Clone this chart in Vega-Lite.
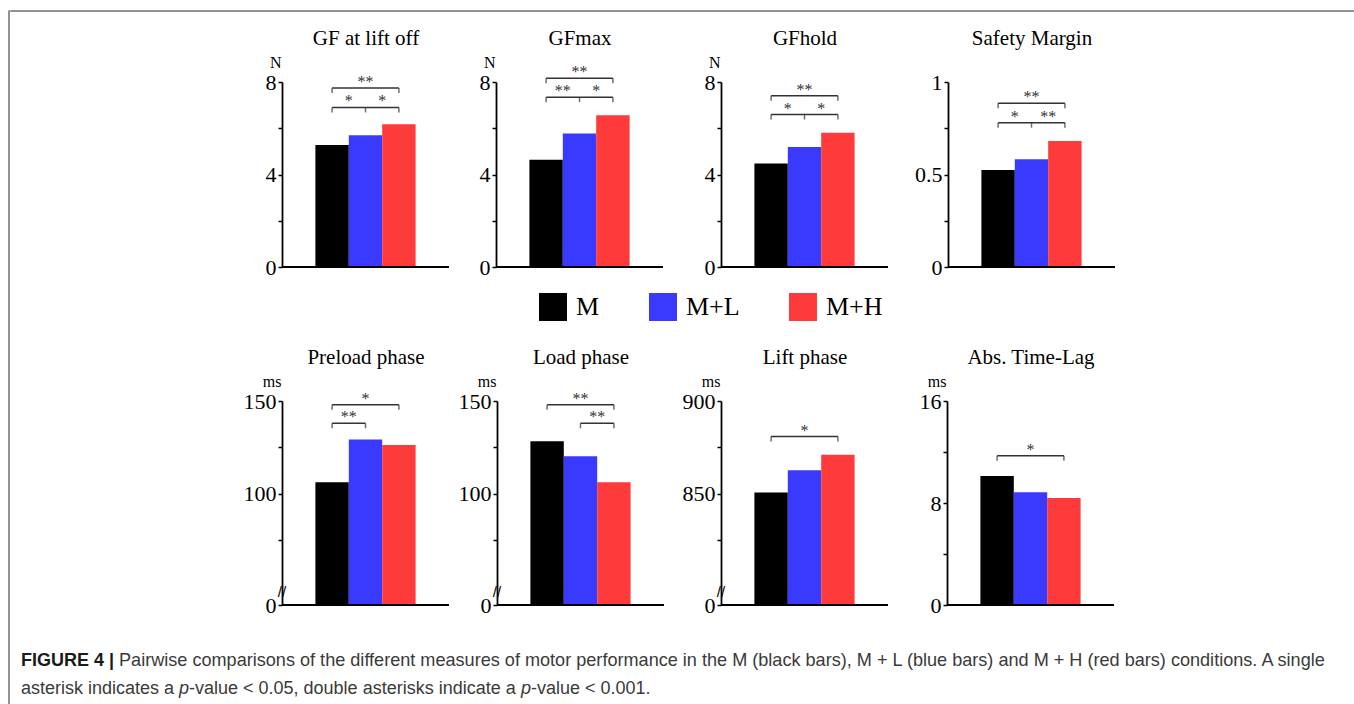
{
"$schema": "https://vega.github.io/schema/vega-lite/v6.json",
"background": "white",
"padding": {"left": 8, "top": 10, "right": 0, "bottom": 0},
"config": {
  "view": {"stroke": null},
  "concat": {"spacing": 0},
  "axis": {"grid": false, "domainColor": "#000", "domainWidth": 1.8, "tickColor": "#000", "tickWidth": 1.5, "tickSize": 4, "labelFont": "Liberation Serif", "labelFontSize": 22, "labelColor": "#000", "labelPadding": 2, "labelOverlap": false, "labelFlush": false, "titleFont": "Liberation Serif", "titleFontWeight": "normal", "titleColor": "#000"},
  "axisY": {"titleFontSize": 16, "titleAngle": 0, "titleAlign": "right", "titleBaseline": "alphabetic", "titleX": -1, "titleY": -15, "minExtent": 0},
  "axisX": {"domain": false, "ticks": false, "labels": false, "titleFontSize": 21, "titlePadding": 38, "titleBaseline": "alphabetic", "minExtent": 0, "maxExtent": 0},
  "legend": {"padding": 0}
},
"datasets": {
  "bars": [
    {"panel":"GF at lift off","cond":"M","value":5.28},
    {"panel":"GF at lift off","cond":"M+L","value":5.70},
    {"panel":"GF at lift off","cond":"M+H","value":6.17},
    {"panel":"GFmax","cond":"M","value":4.64},
    {"panel":"GFmax","cond":"M+L","value":5.77},
    {"panel":"GFmax","cond":"M+H","value":6.56},
    {"panel":"GFhold","cond":"M","value":4.48},
    {"panel":"GFhold","cond":"M+L","value":5.19},
    {"panel":"GFhold","cond":"M+H","value":5.81},
    {"panel":"Safety Margin","cond":"M","value":0.524},
    {"panel":"Safety Margin","cond":"M+L","value":0.582},
    {"panel":"Safety Margin","cond":"M+H","value":0.681},
    {"panel":"Preload phase","cond":"M","value":106.2},
    {"panel":"Preload phase","cond":"M+L","value":129.2},
    {"panel":"Preload phase","cond":"M+H","value":126.3},
    {"panel":"Load phase","cond":"M","value":128.3},
    {"panel":"Load phase","cond":"M+L","value":120.2},
    {"panel":"Load phase","cond":"M+H","value":106.2},
    {"panel":"Lift phase","cond":"M","value":850.6},
    {"panel":"Lift phase","cond":"M+L","value":862.6},
    {"panel":"Lift phase","cond":"M+H","value":871.0},
    {"panel":"Abs. Time-Lag","cond":"M","value":10.12},
    {"panel":"Abs. Time-Lag","cond":"M+L","value":8.84},
    {"panel":"Abs. Time-Lag","cond":"M+H","value":8.40}
  ],
  "brackets": [
    {"panel":"GF at lift off","from":"M","to":"M+H","level":6.9},
    {"panel":"GF at lift off","from":"M","to":"M+H","level":7.74},
    {"panel":"GFmax","from":"M","to":"M+H","level":7.34},
    {"panel":"GFmax","from":"M","to":"M+H","level":8.16},
    {"panel":"GFhold","from":"M","to":"M+H","level":6.59},
    {"panel":"GFhold","from":"M","to":"M+H","level":7.41},
    {"panel":"Safety Margin","from":"M","to":"M+H","level":0.78},
    {"panel":"Safety Margin","from":"M","to":"M+H","level":0.885},
    {"panel":"Preload phase","from":"M","to":"M+H","level":148},
    {"panel":"Preload phase","from":"M","to":"M+L","level":138},
    {"panel":"Load phase","from":"M","to":"M+H","level":148},
    {"panel":"Load phase","from":"M+L","to":"M+H","level":138},
    {"panel":"Lift phase","from":"M","to":"M+H","level":880.8},
    {"panel":"Abs. Time-Lag","from":"M","to":"M+H","level":11.7}
  ],
  "ticks": [
    {"panel":"GF at lift off","at":"M","level":6.9},
    {"panel":"GF at lift off","at":"M+L","level":6.9},
    {"panel":"GF at lift off","at":"M+H","level":6.9},
    {"panel":"GF at lift off","at":"M","level":7.74},
    {"panel":"GF at lift off","at":"M+H","level":7.74},
    {"panel":"GFmax","at":"M","level":7.34},
    {"panel":"GFmax","at":"M+L","level":7.34},
    {"panel":"GFmax","at":"M+H","level":7.34},
    {"panel":"GFmax","at":"M","level":8.16},
    {"panel":"GFmax","at":"M+H","level":8.16},
    {"panel":"GFhold","at":"M","level":6.59},
    {"panel":"GFhold","at":"M+L","level":6.59},
    {"panel":"GFhold","at":"M+H","level":6.59},
    {"panel":"GFhold","at":"M","level":7.41},
    {"panel":"GFhold","at":"M+H","level":7.41},
    {"panel":"Safety Margin","at":"M","level":0.78},
    {"panel":"Safety Margin","at":"M+L","level":0.78},
    {"panel":"Safety Margin","at":"M+H","level":0.78},
    {"panel":"Safety Margin","at":"M","level":0.885},
    {"panel":"Safety Margin","at":"M+H","level":0.885},
    {"panel":"Preload phase","at":"M","level":148},
    {"panel":"Preload phase","at":"M+H","level":148},
    {"panel":"Preload phase","at":"M","level":138},
    {"panel":"Preload phase","at":"M+L","level":138},
    {"panel":"Load phase","at":"M","level":148},
    {"panel":"Load phase","at":"M+H","level":148},
    {"panel":"Load phase","at":"M+L","level":138},
    {"panel":"Load phase","at":"M+H","level":138},
    {"panel":"Lift phase","at":"M","level":880.8},
    {"panel":"Lift phase","at":"M+H","level":880.8},
    {"panel":"Abs. Time-Lag","at":"M","level":11.7},
    {"panel":"Abs. Time-Lag","at":"M+H","level":11.7}
  ],
  "stars": [
    {"panel":"GF at lift off","at":"M","span":"pair","level":6.9,"text":"*"},
    {"panel":"GF at lift off","at":"M+L","span":"pair","level":6.9,"text":"*"},
    {"panel":"GF at lift off","at":"M+L","span":"all","level":7.74,"text":"**"},
    {"panel":"GFmax","at":"M","span":"pair","level":7.34,"text":"**"},
    {"panel":"GFmax","at":"M+L","span":"pair","level":7.34,"text":"*"},
    {"panel":"GFmax","at":"M+L","span":"all","level":8.16,"text":"**"},
    {"panel":"GFhold","at":"M","span":"pair","level":6.59,"text":"*"},
    {"panel":"GFhold","at":"M+L","span":"pair","level":6.59,"text":"*"},
    {"panel":"GFhold","at":"M+L","span":"all","level":7.41,"text":"**"},
    {"panel":"Safety Margin","at":"M","span":"pair","level":0.78,"text":"*"},
    {"panel":"Safety Margin","at":"M+L","span":"pair","level":0.78,"text":"**"},
    {"panel":"Safety Margin","at":"M+L","span":"all","level":0.885,"text":"**"},
    {"panel":"Preload phase","at":"M+L","span":"all","level":148,"text":"*"},
    {"panel":"Preload phase","at":"M","span":"pair","level":138,"text":"**"},
    {"panel":"Load phase","at":"M+L","span":"all","level":148,"text":"**"},
    {"panel":"Load phase","at":"M+L","span":"pair","level":138,"text":"**"},
    {"panel":"Lift phase","at":"M+L","span":"all","level":880.8,"text":"*"},
    {"panel":"Abs. Time-Lag","at":"M+L","span":"all","level":11.7,"text":"*"}
  ],
  "breaks": [
    {"panel":"Preload phase","level":47},
    {"panel":"Load phase","level":47},
    {"panel":"Lift phase","level":797}
  ],
  "caption": [
    {"seg":"b","text":"FIGURE 4 |"},
    {"seg":"r1","text":"Pairwise comparisons of the different measures of motor performance in the M (black bars), M + L (blue bars) and M + H (red bars) conditions. A single"},
    {"seg":"r2a","text":"asterisk indicates a"},
    {"seg":"i1","text":"p"},
    {"seg":"r2b","text":"-value < 0.05, double asterisks indicate a"},
    {"seg":"i2","text":"p"},
    {"seg":"r2c","text":"-value < 0.001."}
  ]
},
"spacing": 0,
"hconcat": [
  {"width": 0.01, "height": 694, "view": {"stroke": "#6e6e6e", "strokeWidth": 1.5}, "data": {"values": []}, "mark": "rule", "encoding": {}},
  {"spacing": 0,
   "resolve": {"scale": {"color": "independent"}, "legend": {"color": "independent"}},
   "vconcat": [
    {"width": 1344, "height": 0.01, "view": {"stroke": "#6e6e6e", "strokeWidth": 1.5}, "data": {"values": []}, "mark": "rule", "encoding": {}},
    {"width": 0.01, "height": 15, "data": {"values": []}, "mark": "rule", "encoding": {}},
    {"spacing": 0, "hconcat": [
      {"width": 254, "height": 0.01, "data": {"values": []}, "mark": "rule", "encoding": {}},
      {"width": 167, "height": 185, "layer": [
        {"data": {"name": "bars"}, "transform": [{"filter": "datum.panel === 'GF at lift off'"}], "mark": {"type": "bar"},
         "encoding": {
          "x": {"field": "cond", "type": "nominal", "scale": {"domain": ["M","M+L","M+H"], "paddingInner": 0, "paddingOuter": 1}, "axis": {"orient": "top", "title": "GF at lift off"}},
          "y": {"field": "value", "type": "quantitative", "scale": {"domain": [0, 8]}, "axis": {"values": [0,2,4,6,8], "labelExpr": "datum.value === 0 || datum.value === 4 || datum.value === 8 ? datum.label : ''", "title": "N"}},
          "color": {"field": "cond", "type": "nominal", "scale": {"domain": ["M","M+L","M+H"], "range": ["#000000","#3a3aff","#ff3a3a"]}, "legend": null}}},
        {"data": {"name": "brackets"}, "transform": [{"filter": "datum.panel === 'GF at lift off'"}], "mark": {"type": "rule", "color": "#333333", "strokeWidth": 1.5},
         "encoding": {"x": {"field": "from", "type": "nominal"}, "x2": {"field": "to"}, "y": {"field": "level", "type": "quantitative"}}},
        {"data": {"name": "ticks"}, "transform": [{"filter": "datum.panel === 'GF at lift off'"}], "mark": {"type": "tick", "orient": "vertical", "size": 5, "thickness": 1.5, "yOffset": 2.5, "color": "#333333"},
         "encoding": {"x": {"field": "at", "type": "nominal"}, "y": {"field": "level", "type": "quantitative"}}},
        {"data": {"name": "stars"}, "transform": [{"filter": "datum.panel === 'GF at lift off' && datum.span === 'pair'"}], "mark": {"type": "text", "font": "Liberation Serif", "fontSize": 16, "color": "#333333", "baseline": "alphabetic", "dy": -1},
         "encoding": {"x": {"field": "at", "type": "nominal", "bandPosition": 1}, "y": {"field": "level", "type": "quantitative"}, "text": {"field": "text"}}},
        {"data": {"name": "stars"}, "transform": [{"filter": "datum.panel === 'GF at lift off' && datum.span === 'all'"}], "mark": {"type": "text", "font": "Liberation Serif", "fontSize": 16, "color": "#333333", "baseline": "alphabetic", "dy": -1},
         "encoding": {"x": {"field": "at", "type": "nominal", "bandPosition": 0.5}, "y": {"field": "level", "type": "quantitative"}, "text": {"field": "text"}}},
        {"data": {"name": "bars"}, "transform": [{"filter": "datum.panel === 'GF at lift off' && datum.cond === 'M'"}], "mark": {"type": "rule", "color": "#000000", "strokeWidth": 1.8},
         "encoding": {"y": {"datum": 0, "type": "quantitative"}}}
      ]},
      {"width": 29, "height": 0.01, "data": {"values": []}, "mark": "rule", "encoding": {}},
      {"width": 167, "height": 185, "layer": [
        {"data": {"name": "bars"}, "transform": [{"filter": "datum.panel === 'GFmax'"}], "mark": {"type": "bar"},
         "encoding": {
          "x": {"field": "cond", "type": "nominal", "scale": {"domain": ["M","M+L","M+H"], "paddingInner": 0, "paddingOuter": 1}, "axis": {"orient": "top", "title": "GFmax"}},
          "y": {"field": "value", "type": "quantitative", "scale": {"domain": [0, 8]}, "axis": {"values": [0,2,4,6,8], "labelExpr": "datum.value === 0 || datum.value === 4 || datum.value === 8 ? datum.label : ''", "title": "N"}},
          "color": {"field": "cond", "type": "nominal", "scale": {"domain": ["M","M+L","M+H"], "range": ["#000000","#3a3aff","#ff3a3a"]}, "legend": null}}},
        {"data": {"name": "brackets"}, "transform": [{"filter": "datum.panel === 'GFmax'"}], "mark": {"type": "rule", "color": "#333333", "strokeWidth": 1.5},
         "encoding": {"x": {"field": "from", "type": "nominal"}, "x2": {"field": "to"}, "y": {"field": "level", "type": "quantitative"}}},
        {"data": {"name": "ticks"}, "transform": [{"filter": "datum.panel === 'GFmax'"}], "mark": {"type": "tick", "orient": "vertical", "size": 5, "thickness": 1.5, "yOffset": 2.5, "color": "#333333"},
         "encoding": {"x": {"field": "at", "type": "nominal"}, "y": {"field": "level", "type": "quantitative"}}},
        {"data": {"name": "stars"}, "transform": [{"filter": "datum.panel === 'GFmax' && datum.span === 'pair'"}], "mark": {"type": "text", "font": "Liberation Serif", "fontSize": 16, "color": "#333333", "baseline": "alphabetic", "dy": -1},
         "encoding": {"x": {"field": "at", "type": "nominal", "bandPosition": 1}, "y": {"field": "level", "type": "quantitative"}, "text": {"field": "text"}}},
        {"data": {"name": "stars"}, "transform": [{"filter": "datum.panel === 'GFmax' && datum.span === 'all'"}], "mark": {"type": "text", "font": "Liberation Serif", "fontSize": 16, "color": "#333333", "baseline": "alphabetic", "dy": -1},
         "encoding": {"x": {"field": "at", "type": "nominal", "bandPosition": 0.5}, "y": {"field": "level", "type": "quantitative"}, "text": {"field": "text"}}},
        {"data": {"name": "bars"}, "transform": [{"filter": "datum.panel === 'GFmax' && datum.cond === 'M'"}], "mark": {"type": "rule", "color": "#000000", "strokeWidth": 1.8},
         "encoding": {"y": {"datum": 0, "type": "quantitative"}}}
      ]},
      {"width": 40, "height": 0.01, "data": {"values": []}, "mark": "rule", "encoding": {}},
      {"width": 167, "height": 185, "layer": [
        {"data": {"name": "bars"}, "transform": [{"filter": "datum.panel === 'GFhold'"}], "mark": {"type": "bar"},
         "encoding": {
          "x": {"field": "cond", "type": "nominal", "scale": {"domain": ["M","M+L","M+H"], "paddingInner": 0, "paddingOuter": 1}, "axis": {"orient": "top", "title": "GFhold"}},
          "y": {"field": "value", "type": "quantitative", "scale": {"domain": [0, 8]}, "axis": {"values": [0,2,4,6,8], "labelExpr": "datum.value === 0 || datum.value === 4 || datum.value === 8 ? datum.label : ''", "title": "N"}},
          "color": {"field": "cond", "type": "nominal", "scale": {"domain": ["M","M+L","M+H"], "range": ["#000000","#3a3aff","#ff3a3a"]}, "legend": null}}},
        {"data": {"name": "brackets"}, "transform": [{"filter": "datum.panel === 'GFhold'"}], "mark": {"type": "rule", "color": "#333333", "strokeWidth": 1.5},
         "encoding": {"x": {"field": "from", "type": "nominal"}, "x2": {"field": "to"}, "y": {"field": "level", "type": "quantitative"}}},
        {"data": {"name": "ticks"}, "transform": [{"filter": "datum.panel === 'GFhold'"}], "mark": {"type": "tick", "orient": "vertical", "size": 5, "thickness": 1.5, "yOffset": 2.5, "color": "#333333"},
         "encoding": {"x": {"field": "at", "type": "nominal"}, "y": {"field": "level", "type": "quantitative"}}},
        {"data": {"name": "stars"}, "transform": [{"filter": "datum.panel === 'GFhold' && datum.span === 'pair'"}], "mark": {"type": "text", "font": "Liberation Serif", "fontSize": 16, "color": "#333333", "baseline": "alphabetic", "dy": -1},
         "encoding": {"x": {"field": "at", "type": "nominal", "bandPosition": 1}, "y": {"field": "level", "type": "quantitative"}, "text": {"field": "text"}}},
        {"data": {"name": "stars"}, "transform": [{"filter": "datum.panel === 'GFhold' && datum.span === 'all'"}], "mark": {"type": "text", "font": "Liberation Serif", "fontSize": 16, "color": "#333333", "baseline": "alphabetic", "dy": -1},
         "encoding": {"x": {"field": "at", "type": "nominal", "bandPosition": 0.5}, "y": {"field": "level", "type": "quantitative"}, "text": {"field": "text"}}},
        {"data": {"name": "bars"}, "transform": [{"filter": "datum.panel === 'GFhold' && datum.cond === 'M'"}], "mark": {"type": "rule", "color": "#000000", "strokeWidth": 1.8},
         "encoding": {"y": {"datum": 0, "type": "quantitative"}}}
      ]},
      {"width": 24.5, "height": 0.01, "data": {"values": []}, "mark": "rule", "encoding": {}},
      {"width": 167, "height": 185, "layer": [
        {"data": {"name": "bars"}, "transform": [{"filter": "datum.panel === 'Safety Margin'"}], "mark": {"type": "bar"},
         "encoding": {
          "x": {"field": "cond", "type": "nominal", "scale": {"domain": ["M","M+L","M+H"], "paddingInner": 0, "paddingOuter": 1}, "axis": {"orient": "top", "title": "Safety Margin"}},
          "y": {"field": "value", "type": "quantitative", "scale": {"domain": [0, 1]}, "axis": {"values": [0,0.25,0.5,0.75,1], "labelExpr": "datum.value === 0 ? '0' : datum.value === 0.5 ? '0.5' : datum.value === 1 ? '1' : ''", "title": ""}},
          "color": {"field": "cond", "type": "nominal", "scale": {"domain": ["M","M+L","M+H"], "range": ["#000000","#3a3aff","#ff3a3a"]}, "legend": null}}},
        {"data": {"name": "brackets"}, "transform": [{"filter": "datum.panel === 'Safety Margin'"}], "mark": {"type": "rule", "color": "#333333", "strokeWidth": 1.5},
         "encoding": {"x": {"field": "from", "type": "nominal"}, "x2": {"field": "to"}, "y": {"field": "level", "type": "quantitative"}}},
        {"data": {"name": "ticks"}, "transform": [{"filter": "datum.panel === 'Safety Margin'"}], "mark": {"type": "tick", "orient": "vertical", "size": 5, "thickness": 1.5, "yOffset": 2.5, "color": "#333333"},
         "encoding": {"x": {"field": "at", "type": "nominal"}, "y": {"field": "level", "type": "quantitative"}}},
        {"data": {"name": "stars"}, "transform": [{"filter": "datum.panel === 'Safety Margin' && datum.span === 'pair'"}], "mark": {"type": "text", "font": "Liberation Serif", "fontSize": 16, "color": "#333333", "baseline": "alphabetic", "dy": -1},
         "encoding": {"x": {"field": "at", "type": "nominal", "bandPosition": 1}, "y": {"field": "level", "type": "quantitative"}, "text": {"field": "text"}}},
        {"data": {"name": "stars"}, "transform": [{"filter": "datum.panel === 'Safety Margin' && datum.span === 'all'"}], "mark": {"type": "text", "font": "Liberation Serif", "fontSize": 16, "color": "#333333", "baseline": "alphabetic", "dy": -1},
         "encoding": {"x": {"field": "at", "type": "nominal", "bandPosition": 0.5}, "y": {"field": "level", "type": "quantitative"}, "text": {"field": "text"}}},
        {"data": {"name": "bars"}, "transform": [{"filter": "datum.panel === 'Safety Margin' && datum.cond === 'M'"}], "mark": {"type": "rule", "color": "#000000", "strokeWidth": 1.8},
         "encoding": {"y": {"datum": 0, "type": "quantitative"}}}
      ]}
    ]},
    {"width": 0.01, "height": 11.5, "data": {"values": []}, "mark": "rule", "encoding": {}},
    {"width": 1344, "height": 0.01,
     "data": {"name": "bars"}, "transform": [{"filter": "datum.panel === 'GFmax'"}],
     "mark": {"type": "square", "opacity": 0},
     "encoding": {"color": {"field": "cond", "type": "nominal", "scale": {"domain": ["M","M+L","M+H"], "range": ["#000000","#3a3aff","#ff3a3a"]},
       "legend": {"title": null, "orient": "none", "legendX": 528, "legendY": 0, "direction": "horizontal", "symbolType": "square", "symbolSize": 784, "symbolOpacity": 1, "symbolStrokeWidth": 0, "labelFont": "Liberation Serif", "labelFontSize": 26, "labelColor": "#000", "labelOffset": 9, "columnPadding": 49, "padding": 0}}}},
    {"width": 0.01, "height": 25, "data": {"values": []}, "mark": "rule", "encoding": {}},
    {"spacing": 0, "hconcat": [
      {"width": 232, "height": 0.01, "data": {"values": []}, "mark": "rule", "encoding": {}},
      {"width": 167, "height": 204, "layer": [
        {"data": {"name": "bars"}, "transform": [{"filter": "datum.panel === 'Preload phase'"}], "mark": {"type": "bar"},
         "encoding": {
          "x": {"field": "cond", "type": "nominal", "scale": {"domain": ["M","M+L","M+H"], "paddingInner": 0, "paddingOuter": 1}, "axis": {"orient": "top", "title": "Preload phase"}},
          "y": {"field": "value", "type": "quantitative", "scale": {"domain": [40, 150], "clamp": true, "zero": false}, "axis": {"values": [40,75,100,125,150], "labelExpr": "datum.value === 40 ? '0' : datum.value === 100 || datum.value === 150 ? datum.label : ''", "title": "ms"}},
          "color": {"field": "cond", "type": "nominal", "scale": {"domain": ["M","M+L","M+H"], "range": ["#000000","#3a3aff","#ff3a3a"]}, "legend": null}}},
        {"data": {"name": "brackets"}, "transform": [{"filter": "datum.panel === 'Preload phase'"}], "mark": {"type": "rule", "color": "#333333", "strokeWidth": 1.5},
         "encoding": {"x": {"field": "from", "type": "nominal"}, "x2": {"field": "to"}, "y": {"field": "level", "type": "quantitative"}}},
        {"data": {"name": "ticks"}, "transform": [{"filter": "datum.panel === 'Preload phase'"}], "mark": {"type": "tick", "orient": "vertical", "size": 5, "thickness": 1.5, "yOffset": 2.5, "color": "#333333"},
         "encoding": {"x": {"field": "at", "type": "nominal"}, "y": {"field": "level", "type": "quantitative"}}},
        {"data": {"name": "stars"}, "transform": [{"filter": "datum.panel === 'Preload phase' && datum.span === 'pair'"}], "mark": {"type": "text", "font": "Liberation Serif", "fontSize": 16, "color": "#333333", "baseline": "alphabetic", "dy": -1},
         "encoding": {"x": {"field": "at", "type": "nominal", "bandPosition": 1}, "y": {"field": "level", "type": "quantitative"}, "text": {"field": "text"}}},
        {"data": {"name": "stars"}, "transform": [{"filter": "datum.panel === 'Preload phase' && datum.span === 'all'"}], "mark": {"type": "text", "font": "Liberation Serif", "fontSize": 16, "color": "#333333", "baseline": "alphabetic", "dy": -1},
         "encoding": {"x": {"field": "at", "type": "nominal", "bandPosition": 0.5}, "y": {"field": "level", "type": "quantitative"}, "text": {"field": "text"}}},
        {"data": {"name": "breaks"}, "transform": [{"filter": "datum.panel === 'Preload phase'"}], "mark": {"type": "text", "text": "//", "font": "Liberation Sans", "fontSize": 15, "color": "#000000", "baseline": "middle"},
         "encoding": {"x": {"datum": "M", "type": "nominal", "bandPosition": -1}, "y": {"field": "level", "type": "quantitative"}}},
        {"data": {"name": "bars"}, "transform": [{"filter": "datum.panel === 'Preload phase' && datum.cond === 'M'"}], "mark": {"type": "rule", "color": "#000000", "strokeWidth": 1.8},
         "encoding": {"y": {"datum": 40, "type": "quantitative"}}}
      ]},
      {"width": 8, "height": 0.01, "data": {"values": []}, "mark": "rule", "encoding": {}},
      {"width": 167, "height": 204, "layer": [
        {"data": {"name": "bars"}, "transform": [{"filter": "datum.panel === 'Load phase'"}], "mark": {"type": "bar"},
         "encoding": {
          "x": {"field": "cond", "type": "nominal", "scale": {"domain": ["M","M+L","M+H"], "paddingInner": 0, "paddingOuter": 1}, "axis": {"orient": "top", "title": "Load phase"}},
          "y": {"field": "value", "type": "quantitative", "scale": {"domain": [40, 150], "clamp": true, "zero": false}, "axis": {"values": [40,75,100,125,150], "labelExpr": "datum.value === 40 ? '0' : datum.value === 100 || datum.value === 150 ? datum.label : ''", "title": "ms"}},
          "color": {"field": "cond", "type": "nominal", "scale": {"domain": ["M","M+L","M+H"], "range": ["#000000","#3a3aff","#ff3a3a"]}, "legend": null}}},
        {"data": {"name": "brackets"}, "transform": [{"filter": "datum.panel === 'Load phase'"}], "mark": {"type": "rule", "color": "#333333", "strokeWidth": 1.5},
         "encoding": {"x": {"field": "from", "type": "nominal"}, "x2": {"field": "to"}, "y": {"field": "level", "type": "quantitative"}}},
        {"data": {"name": "ticks"}, "transform": [{"filter": "datum.panel === 'Load phase'"}], "mark": {"type": "tick", "orient": "vertical", "size": 5, "thickness": 1.5, "yOffset": 2.5, "color": "#333333"},
         "encoding": {"x": {"field": "at", "type": "nominal"}, "y": {"field": "level", "type": "quantitative"}}},
        {"data": {"name": "stars"}, "transform": [{"filter": "datum.panel === 'Load phase' && datum.span === 'pair'"}], "mark": {"type": "text", "font": "Liberation Serif", "fontSize": 16, "color": "#333333", "baseline": "alphabetic", "dy": -1},
         "encoding": {"x": {"field": "at", "type": "nominal", "bandPosition": 1}, "y": {"field": "level", "type": "quantitative"}, "text": {"field": "text"}}},
        {"data": {"name": "stars"}, "transform": [{"filter": "datum.panel === 'Load phase' && datum.span === 'all'"}], "mark": {"type": "text", "font": "Liberation Serif", "fontSize": 16, "color": "#333333", "baseline": "alphabetic", "dy": -1},
         "encoding": {"x": {"field": "at", "type": "nominal", "bandPosition": 0.5}, "y": {"field": "level", "type": "quantitative"}, "text": {"field": "text"}}},
        {"data": {"name": "breaks"}, "transform": [{"filter": "datum.panel === 'Load phase'"}], "mark": {"type": "text", "text": "//", "font": "Liberation Sans", "fontSize": 15, "color": "#000000", "baseline": "middle"},
         "encoding": {"x": {"datum": "M", "type": "nominal", "bandPosition": -1}, "y": {"field": "level", "type": "quantitative"}}},
        {"data": {"name": "bars"}, "transform": [{"filter": "datum.panel === 'Load phase' && datum.cond === 'M'"}], "mark": {"type": "rule", "color": "#000000", "strokeWidth": 1.8},
         "encoding": {"y": {"datum": 40, "type": "quantitative"}}}
      ]},
      {"width": 17, "height": 0.01, "data": {"values": []}, "mark": "rule", "encoding": {}},
      {"width": 167, "height": 204, "layer": [
        {"data": {"name": "bars"}, "transform": [{"filter": "datum.panel === 'Lift phase'"}], "mark": {"type": "bar"},
         "encoding": {
          "x": {"field": "cond", "type": "nominal", "scale": {"domain": ["M","M+L","M+H"], "paddingInner": 0, "paddingOuter": 1}, "axis": {"orient": "top", "title": "Lift phase"}},
          "y": {"field": "value", "type": "quantitative", "scale": {"domain": [790, 900], "clamp": true, "zero": false}, "axis": {"values": [790,825,850,875,900], "labelExpr": "datum.value === 790 ? '0' : datum.value === 850 || datum.value === 900 ? datum.label : ''", "title": "ms"}},
          "color": {"field": "cond", "type": "nominal", "scale": {"domain": ["M","M+L","M+H"], "range": ["#000000","#3a3aff","#ff3a3a"]}, "legend": null}}},
        {"data": {"name": "brackets"}, "transform": [{"filter": "datum.panel === 'Lift phase'"}], "mark": {"type": "rule", "color": "#333333", "strokeWidth": 1.5},
         "encoding": {"x": {"field": "from", "type": "nominal"}, "x2": {"field": "to"}, "y": {"field": "level", "type": "quantitative"}}},
        {"data": {"name": "ticks"}, "transform": [{"filter": "datum.panel === 'Lift phase'"}], "mark": {"type": "tick", "orient": "vertical", "size": 5, "thickness": 1.5, "yOffset": 2.5, "color": "#333333"},
         "encoding": {"x": {"field": "at", "type": "nominal"}, "y": {"field": "level", "type": "quantitative"}}},
        {"data": {"name": "stars"}, "transform": [{"filter": "datum.panel === 'Lift phase' && datum.span === 'all'"}], "mark": {"type": "text", "font": "Liberation Serif", "fontSize": 16, "color": "#333333", "baseline": "alphabetic", "dy": -1},
         "encoding": {"x": {"field": "at", "type": "nominal", "bandPosition": 0.5}, "y": {"field": "level", "type": "quantitative"}, "text": {"field": "text"}}},
        {"data": {"name": "breaks"}, "transform": [{"filter": "datum.panel === 'Lift phase'"}], "mark": {"type": "text", "text": "//", "font": "Liberation Sans", "fontSize": 15, "color": "#000000", "baseline": "middle"},
         "encoding": {"x": {"datum": "M", "type": "nominal", "bandPosition": -1}, "y": {"field": "level", "type": "quantitative"}}},
        {"data": {"name": "bars"}, "transform": [{"filter": "datum.panel === 'Lift phase' && datum.cond === 'M'"}], "mark": {"type": "rule", "color": "#000000", "strokeWidth": 1.8},
         "encoding": {"y": {"datum": 790, "type": "quantitative"}}}
      ]},
      {"width": 30, "height": 0.01, "data": {"values": []}, "mark": "rule", "encoding": {}},
      {"width": 167, "height": 204, "layer": [
        {"data": {"name": "bars"}, "transform": [{"filter": "datum.panel === 'Abs. Time-Lag'"}], "mark": {"type": "bar"},
         "encoding": {
          "x": {"field": "cond", "type": "nominal", "scale": {"domain": ["M","M+L","M+H"], "paddingInner": 0, "paddingOuter": 1}, "axis": {"orient": "top", "title": "Abs. Time-Lag"}},
          "y": {"field": "value", "type": "quantitative", "scale": {"domain": [0, 16]}, "axis": {"values": [0,4,8,12,16], "labelExpr": "datum.value === 0 || datum.value === 8 || datum.value === 16 ? datum.label : ''", "title": "ms"}},
          "color": {"field": "cond", "type": "nominal", "scale": {"domain": ["M","M+L","M+H"], "range": ["#000000","#3a3aff","#ff3a3a"]}, "legend": null}}},
        {"data": {"name": "brackets"}, "transform": [{"filter": "datum.panel === 'Abs. Time-Lag'"}], "mark": {"type": "rule", "color": "#333333", "strokeWidth": 1.5},
         "encoding": {"x": {"field": "from", "type": "nominal"}, "x2": {"field": "to"}, "y": {"field": "level", "type": "quantitative"}}},
        {"data": {"name": "ticks"}, "transform": [{"filter": "datum.panel === 'Abs. Time-Lag'"}], "mark": {"type": "tick", "orient": "vertical", "size": 5, "thickness": 1.5, "yOffset": 2.5, "color": "#333333"},
         "encoding": {"x": {"field": "at", "type": "nominal"}, "y": {"field": "level", "type": "quantitative"}}},
        {"data": {"name": "stars"}, "transform": [{"filter": "datum.panel === 'Abs. Time-Lag' && datum.span === 'all'"}], "mark": {"type": "text", "font": "Liberation Serif", "fontSize": 16, "color": "#333333", "baseline": "alphabetic", "dy": -1},
         "encoding": {"x": {"field": "at", "type": "nominal", "bandPosition": 0.5}, "y": {"field": "level", "type": "quantitative"}, "text": {"field": "text"}}},
        {"data": {"name": "bars"}, "transform": [{"filter": "datum.panel === 'Abs. Time-Lag' && datum.cond === 'M'"}], "mark": {"type": "rule", "color": "#000000", "strokeWidth": 1.8},
         "encoding": {"y": {"datum": 0, "type": "quantitative"}}}
      ]}
    ]},
    {"width": 1344, "height": 80, "data": {"name": "caption"},
     "layer": [
      {"transform": [{"filter": "datum.seg === 'b'"}], "mark": {"type": "text", "align": "left", "baseline": "alphabetic", "font": "Liberation Sans", "fontSize": 18, "fontWeight": "bold", "color": "#1a1a1a", "dx": -662, "dy": 10}, "encoding": {"text": {"field": "text"}}},
      {"transform": [{"filter": "datum.seg === 'r1'"}], "mark": {"type": "text", "align": "left", "baseline": "alphabetic", "font": "Liberation Sans", "fontSize": 18.1, "color": "#3a3a3a", "dx": -564, "dy": 10}, "encoding": {"text": {"field": "text"}}},
      {"transform": [{"filter": "datum.seg === 'r2a'"}], "mark": {"type": "text", "align": "left", "baseline": "alphabetic", "font": "Liberation Sans", "fontSize": 18, "color": "#3a3a3a", "dx": -662, "dy": 37.5}, "encoding": {"text": {"field": "text"}}},
      {"transform": [{"filter": "datum.seg === 'i1'"}], "mark": {"type": "text", "align": "left", "baseline": "alphabetic", "font": "Liberation Sans", "fontSize": 18, "fontStyle": "italic", "color": "#3a3a3a", "dx": -504, "dy": 37.5}, "encoding": {"text": {"field": "text"}}},
      {"transform": [{"filter": "datum.seg === 'r2b'"}], "mark": {"type": "text", "align": "left", "baseline": "alphabetic", "font": "Liberation Sans", "fontSize": 18, "color": "#3a3a3a", "dx": -494, "dy": 37.5}, "encoding": {"text": {"field": "text"}}},
      {"transform": [{"filter": "datum.seg === 'i2'"}], "mark": {"type": "text", "align": "left", "baseline": "alphabetic", "font": "Liberation Sans", "fontSize": 18, "fontStyle": "italic", "color": "#3a3a3a", "dx": -162, "dy": 37.5}, "encoding": {"text": {"field": "text"}}},
      {"transform": [{"filter": "datum.seg === 'r2c'"}], "mark": {"type": "text", "align": "left", "baseline": "alphabetic", "font": "Liberation Sans", "fontSize": 18, "color": "#3a3a3a", "dx": -152, "dy": 37.5}, "encoding": {"text": {"field": "text"}}}
     ]}
  ]},
  {"width": 0.01, "height": 694, "view": {"stroke": "#6e6e6e", "strokeWidth": 1.5}, "data": {"values": []}, "mark": "rule", "encoding": {}}
]
}
